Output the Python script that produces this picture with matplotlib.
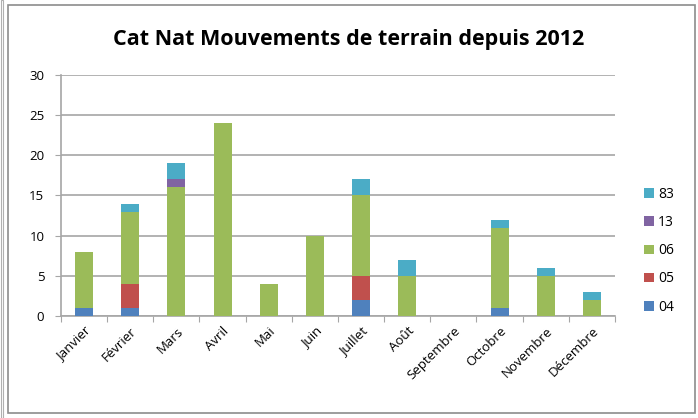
import numpy as np
import matplotlib.pyplot as plt
from matplotlib.patches import Rectangle

mois = ['Janvier', 'Février', 'Mars', 'Avril', 'Mai', 'Juin', 'Juillet',
        'Août', 'Septembre', 'Octobre', 'Novembre', 'Décembre']
d04 = [1, 1, 0, 0, 0, 0, 2, 0, 0, 1, 0, 0]
d05 = [0, 3, 0, 0, 0, 0, 3, 0, 0, 0, 0, 0]
d06 = [7, 9, 16, 24, 4, 10, 10, 5, 0, 10, 5, 2]
d13 = [0, 0, 1, 0, 0, 0, 0, 0, 0, 0, 0, 0]
d83 = [0, 1, 2, 0, 0, 0, 2, 2, 0, 1, 1, 1]

series = [('04', d04, '#4F81BD'), ('05', d05, '#C0504D'), ('06', d06, '#9BBB59'),
          ('13', d13, '#8064A2'), ('83', d83, '#4BACC6')]

plt.rcParams['font.family'] = ['Open Sans', 'DejaVu Sans']

fig = plt.figure(figsize=(6.98, 4.18), dpi=100)
fig.patches.append(Rectangle((8/698, 5/418), 687/698, 408/418, transform=fig.transFigure,
                             fill=False, edgecolor='#8c8c8c', linewidth=1.2))
fig.patches.append(Rectangle((1/698, 0), 2/698, 1, transform=fig.transFigure,
                             fill=False, edgecolor='#b0b0b0', linewidth=0.8))

ax = fig.add_axes([0.0874, 0.244, 0.7936, 0.5766])
x = np.arange(len(mois))
bottom = np.zeros(len(mois))
handles = []
for name, vals, col in series:
    vals = np.array(vals)
    b = ax.bar(x, vals, 0.39, bottom=bottom, color=col, label=name, zorder=3)
    handles.append(b)
    bottom += vals

ax.set_xlim(-0.5, 11.5)
ax.set_ylim(0, 30)
ax.set_yticks(range(0, 31, 5))
ax.yaxis.grid(True, color='#a6a6a6', linewidth=1.2, zorder=0)
for s in ['top', 'right']:
    ax.spines[s].set_visible(False)
for s in ['left', 'bottom']:
    ax.spines[s].set_color('#a6a6a6')
    ax.spines[s].set_linewidth(1.2)
ax.set_xticks(np.arange(-0.5, 12, 1), minor=False)
ax.set_xticklabels([])
ax.set_xticks(x, minor=True)
ax.set_xticklabels(mois, minor=True, rotation=45, ha='right', rotation_mode='anchor', fontsize=9.5)
ax.tick_params(axis='x', which='minor', length=0, pad=6)
ax.tick_params(axis='x', which='major', length=4, color='#a6a6a6')
ax.tick_params(axis='y', length=4, color='#a6a6a6', labelsize=9.5, pad=8)

fig.text(0.5, 0.905, 'Cat Nat Mouvements de terrain depuis 2012', ha='center', va='center',
         fontsize=15.5, fontweight='bold')

leg = fig.legend(handles[::-1], [h.get_label() for h in handles[::-1]],
                 loc='center left', bbox_to_anchor=(0.905, 0.40), frameon=False,
                 fontsize=10, handlelength=0.7, handleheight=0.7, labelspacing=0.95,
                 handletextpad=0.3)

fig.savefig('out.png', dpi=100)
